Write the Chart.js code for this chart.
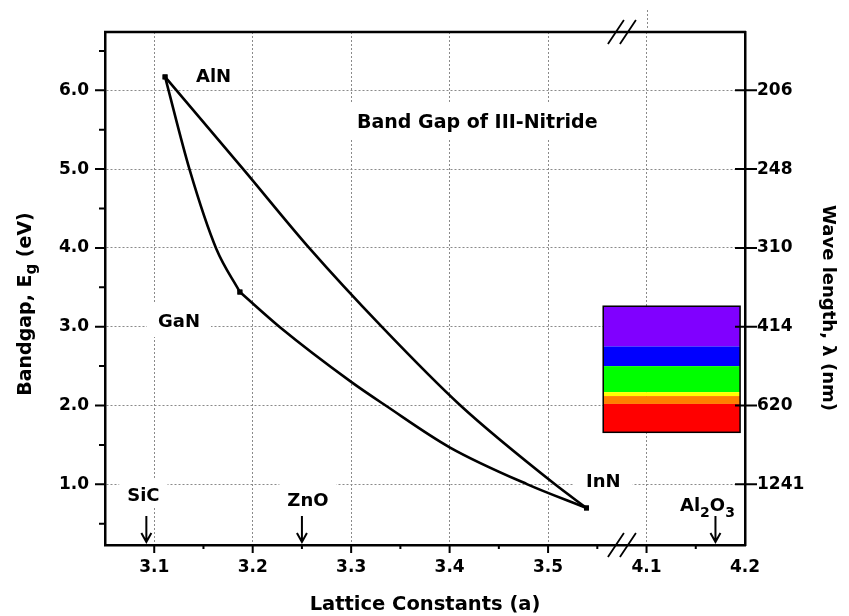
<!DOCTYPE html>
<html>
<head>
<meta charset="utf-8">
<title>Band Gap of III-Nitride</title>
<script src="https://cdn.jsdelivr.net/npm/chart.js@4.4.0/dist/chart.umd.min.js"></script>
<style>
    html, body { margin: 0; padding: 0; background: #ffffff; }
    #wrap { position: relative; width: 849px; height: 616px; }
</style>
</head>
<body>
<div id="wrap"><canvas id="chart"></canvas></div>
<script>
// ---- values ----
// lattice constant a (A) and band gap Eg (eV) along each ternary curve
var alganA  = [3.111, 3.136, 3.163, 3.187];
var alganEg = [6.17, 4.99, 3.99, 3.44];

var inganA  = [3.187, 3.228, 3.300, 3.335, 3.400, 3.479, 3.539];
var inganEg = [3.44, 2.99, 2.30, 2.00, 1.47, 1.00, 0.70];

var alinnA  = [3.111, 3.191, 3.258, 3.331, 3.411, 3.507, 3.539];
var alinnEg = [6.17, 4.99, 3.99, 3.00, 2.00, 1.00, 0.70];

// substrates marked with arrows on the a axis
var substrateNames = ['SiC', 'ZnO', 'Al2O3'];
var substrateA     = [3.092, 3.25, 4.17];

// ticks
var xTickValues  = [3.1, 3.2, 3.3, 3.4, 3.5, 4.1, 4.2];
var xMinorValues = [3.15, 3.25, 3.35, 3.45, 3.55, 4.15];
var yTickValues  = [1, 2, 3, 4, 5, 6];
var yMinorValues = [0.5, 1.5, 2.5, 3.5, 4.5, 5.5, 6.5];
var wavelengthLabels = ['1241', '620', '414', '310', '248', '206'];

// visible spectrum bands, edges in eV from top to bottom
var spectrumEdges  = [3.26, 2.75, 2.50, 2.17, 2.12, 2.02, 1.66];
var spectrumColors = ['#8000ff', '#0000ff', '#00ff00', '#ffff00', '#ff8000', '#ff0000'];

// ---- axis break: 3.6 .. 4.1 is cut out ----
var BREAK_FROM = 3.6, BREAK_TO = 4.1;
function toAxis(a) { return a >= BREAK_TO ? a - (BREAK_TO - BREAK_FROM) : a; }

var FONT = "'DejaVu Sans', 'Liberation Sans', Arial, sans-serif";
var GRID = '#8a8a8a';
var SPECTRUM_BOX = { x0: 3.556, x1: 3.695 };   // axis units
var BREAK_MARK = 3.575;                          // axis units

var notes = [
    { text: 'AlN', x: 196, y: 82, size: 18, padX: 6, padY: 6 },
    { text: 'Band Gap of III-Nitride', x: 357, y: 128, size: 19, padX: 7, padY: 11 },
    { text: 'GaN', x: 158, y: 327, size: 18, padX: 11, padY: 10 },
    { text: 'InN', x: 586, y: 487, size: 18, padX: 12, padY: 9 }
];
var substrateStyle = [
    { dx: -3, up: 44, box: true },
    { dx: 6, up: 39, box: true },
    { dx: -8, up: 34, box: false }
];

function toPoints(xs, ys) {
    return xs.map(function(a, i) { return { x: toAxis(a), y: ys[i] }; });
}
function endMarks(n) {
    var r = [];
    for (var i = 0; i < n; i++) r.push(i === 0 || i === n - 1 ? 3.5 : 0);
    return r;
}
function curve(label, xs, ys) {
    return {
        label: label,
        data: toPoints(xs, ys),
        borderColor: '#000000',
        backgroundColor: '#000000',
        borderWidth: 2.6,
        pointStyle: 'rect',
        pointRadius: endMarks(xs.length),
        pointBorderWidth: 0,
        pointBackgroundColor: '#000000',
        cubicInterpolationMode: 'monotone',
        fill: false
    };
}

// split "Al2O3" into normal / subscript runs
function chemParts(name) {
    return name.match(/[0-9]+|[^0-9]+/g).map(function(s) {
        return { t: s, sub: /^[0-9]+$/.test(s) };
    });
}
function partsWidth(ctx, parts, size, subSize) {
    var w = 0;
    parts.forEach(function(p) {
        ctx.font = 'bold ' + (p.sub ? subSize : size) + 'px ' + FONT;
        w += ctx.measureText(p.t).width;
    });
    return w;
}
function drawParts(ctx, parts, x, y, size, subSize, subShift) {
    ctx.textAlign = 'left';
    ctx.textBaseline = 'alphabetic';
    parts.forEach(function(p) {
        ctx.font = 'bold ' + (p.sub ? subSize : size) + 'px ' + FONT;
        ctx.fillText(p.t, x, y + (p.sub ? subShift : 0));
        x += ctx.measureText(p.t).width;
    });
}

function arrowDown(ctx, x, y0, y1) {
    ctx.beginPath();
    ctx.moveTo(x, y0);
    ctx.lineTo(x, y1);
    ctx.moveTo(x - 5, y1 - 9);
    ctx.lineTo(x, y1);
    ctx.lineTo(x + 5, y1 - 9);
    ctx.stroke();
}

var decorPlugin = {
    id: 'bandGapDecor',
    beforeDatasetsDraw: function(chart) {
        var ctx = chart.ctx, xs = chart.scales.x, ys = chart.scales.y, area = chart.chartArea;
        ctx.save();
        // white patches behind the notes, they cut the dotted grid
        ctx.fillStyle = '#ffffff';
        notes.forEach(function(n) {
            ctx.font = 'bold ' + n.size + 'px ' + FONT;
            var w = ctx.measureText(n.text).width, cap = n.size * 0.73;
            ctx.fillRect(n.x - n.padX, n.y - cap - n.padY, w + 2 * n.padX, cap + 2 * n.padY);
        });
        substrateNames.forEach(function(name, i) {
            var st = substrateStyle[i];
            if (!st.box) return;
            var parts = chemParts(name);
            var w = partsWidth(ctx, parts, 18, 14);
            var cx = xs.getPixelForValue(toAxis(substrateA[i])) + st.dx;
            var base = area.bottom - st.up;
            ctx.fillRect(cx - w / 2 - 8, base - 13 - 9, w + 16, 13 + 16);
        });

        // spectrum box
        var bx0 = xs.getPixelForValue(SPECTRUM_BOX.x0), bx1 = xs.getPixelForValue(SPECTRUM_BOX.x1);
        for (var i = 0; i < spectrumColors.length; i++) {
            var yt = ys.getPixelForValue(spectrumEdges[i]);
            var yb = ys.getPixelForValue(spectrumEdges[i + 1]);
            ctx.fillStyle = spectrumColors[i];
            ctx.fillRect(bx0, yt, bx1 - bx0, yb - yt);
        }
        var top = ys.getPixelForValue(spectrumEdges[0]);
        var bot = ys.getPixelForValue(spectrumEdges[spectrumEdges.length - 1]);
        ctx.strokeStyle = '#000000';
        ctx.lineWidth = 1.5;
        ctx.strokeRect(bx0, top, bx1 - bx0, bot - top);
        ctx.restore();
    },
    afterDraw: function(chart) {
        var ctx = chart.ctx, xs = chart.scales.x, ys = chart.scales.y, area = chart.chartArea;
        ctx.save();
        ctx.strokeStyle = '#000000';
        ctx.fillStyle = '#000000';

        // top frame line
        ctx.lineWidth = 2.5;
        ctx.beginPath();
        ctx.moveTo(area.left - 1, area.top);
        ctx.lineTo(area.right + 1, area.top);
        ctx.stroke();

        // tick marks
        ctx.lineWidth = 2;
        ctx.beginPath();
        yTickValues.forEach(function(v) {
            var y = ys.getPixelForValue(v);
            ctx.moveTo(area.left - 10, y); ctx.lineTo(area.left, y);
            ctx.moveTo(area.right - 10, y); ctx.lineTo(area.right + 12, y);
        });
        yMinorValues.forEach(function(v) {
            var y = ys.getPixelForValue(v);
            ctx.moveTo(area.left - 6, y); ctx.lineTo(area.left, y);
        });
        xTickValues.forEach(function(v) {
            var x = xs.getPixelForValue(toAxis(v));
            if (x > area.right - 2) return;
            ctx.moveTo(x, area.bottom); ctx.lineTo(x, area.bottom + 8);
        });
        xMinorValues.forEach(function(v) {
            var x = xs.getPixelForValue(toAxis(v));
            ctx.moveTo(x, area.bottom); ctx.lineTo(x, area.bottom + 4);
        });
        ctx.stroke();

        // axis break marks, top and bottom
        var bx = xs.getPixelForValue(BREAK_MARK);
        ctx.lineWidth = 1.8;
        ctx.beginPath();
        [area.top, area.bottom].forEach(function(y) {
            [-6, 6].forEach(function(d) {
                ctx.moveTo(bx + d - 8, y + 12);
                ctx.lineTo(bx + d + 8, y - 12);
            });
        });
        ctx.stroke();

        // the 4.1 grid line runs on above the frame
        ctx.strokeStyle = GRID;
        ctx.lineWidth = 1;
        ctx.setLineDash([2, 2]);
        var gx = Math.round(xs.getPixelForValue(toAxis(4.1))) + 0.5;
        ctx.beginPath();
        ctx.moveTo(gx, area.top - 22);
        ctx.lineTo(gx, area.top - 2);
        ctx.stroke();
        ctx.setLineDash([]);
        ctx.strokeStyle = '#000000';

        // substrate arrows and names
        ctx.lineWidth = 2;
        substrateNames.forEach(function(name, i) {
            var x = xs.getPixelForValue(toAxis(substrateA[i]));
            arrowDown(ctx, x, area.bottom - 29, area.bottom - 3);
            var parts = chemParts(name);
            var w = partsWidth(ctx, parts, 18, 14);
            drawParts(ctx, parts, x + substrateStyle[i].dx - w / 2, area.bottom - substrateStyle[i].up, 18, 14, 6);
        });

        // notes
        ctx.textAlign = 'left';
        ctx.textBaseline = 'alphabetic';
        notes.forEach(function(n) {
            ctx.font = 'bold ' + n.size + 'px ' + FONT;
            ctx.fillText(n.text, n.x, n.y);
        });

        // axis titles
        ctx.font = 'bold 19.5px ' + FONT;
        ctx.textAlign = 'center';
        ctx.fillText('Lattice Constants (a)', 425, 610);

        var left = [{ t: 'Bandgap, E', sub: false }, { t: 'g', sub: true }, { t: ' (eV)', sub: false }];
        var lw = partsWidth(ctx, left, 19, 15);
        ctx.save();
        ctx.translate(31, 304);
        ctx.rotate(-Math.PI / 2);
        drawParts(ctx, left, -lw / 2, 0, 19, 15, 5);
        ctx.restore();

        ctx.save();
        ctx.translate(823, 308);
        ctx.rotate(Math.PI / 2);
        ctx.font = 'bold 18px ' + FONT;
        ctx.textAlign = 'center';
        ctx.textBaseline = 'alphabetic';
        ctx.fillText('Wave length, \u03bb (nm)', 0, 0);
        ctx.restore();

        ctx.restore();
    }
};

var tickFont = { family: FONT, size: 17, weight: 'bold' };

new Chart(document.getElementById('chart'), {
    type: 'line',
    data: {
        datasets: [
            curve('AlGaN', alganA, alganEg),
            curve('InGaN', inganA, inganEg),
            curve('AlInN', alinnA, alinnEg)
        ]
    },
    options: {
        responsive: true,
        maintainAspectRatio: false,
        animation: false,
        layout: { padding: { top: 32, left: 0, right: 0, bottom: 0 } },
        plugins: {
            legend: { display: false },
            tooltip: { enabled: false },
            title: { display: false }
        },
        scales: {
            x: {
                type: 'linear',
                position: 'bottom',
                min: 3.05,
                max: 3.70,
                afterBuildTicks: function(scale) {
                    scale.ticks = xTickValues.map(function(v) { return { value: toAxis(v) }; });
                },
                afterFit: function(scale) { scale.height = 71; },
                ticks: {
                    font: tickFont,
                    color: '#000000',
                    padding: 12,
                    maxRotation: 0,
                    autoSkip: false,
                    callback: function(value, index) { return xTickValues[index].toFixed(1); }
                },
                grid: { color: GRID, lineWidth: 1, drawTicks: false },
                border: { display: true, color: '#000000', width: 2.5, dash: [2, 2] }
            },
            y: {
                type: 'linear',
                position: 'left',
                min: 0.23,
                max: 6.74,
                afterBuildTicks: function(scale) {
                    scale.ticks = yTickValues.map(function(v) { return { value: v }; });
                },
                afterFit: function(scale) { scale.width = 105; },
                ticks: {
                    font: tickFont,
                    color: '#000000',
                    padding: 16,
                    callback: function(value) { return value.toFixed(1); }
                },
                grid: { color: GRID, lineWidth: 1, drawTicks: false },
                border: { display: true, color: '#000000', width: 2.5, dash: [2, 2] }
            },
            yRight: {
                type: 'linear',
                position: 'right',
                min: 0.23,
                max: 6.74,
                afterBuildTicks: function(scale) {
                    scale.ticks = yTickValues.map(function(v) { return { value: v }; });
                },
                afterFit: function(scale) { scale.width = 104; },
                ticks: {
                    font: tickFont,
                    color: '#000000',
                    padding: 12,
                    callback: function(value, index) { return wavelengthLabels[index]; }
                },
                grid: { display: false, drawOnChartArea: false, drawTicks: false },
                border: { display: true, color: '#000000', width: 2.5 }
            }
        }
    },
    plugins: [decorPlugin]
});
</script>
</body>
</html>
